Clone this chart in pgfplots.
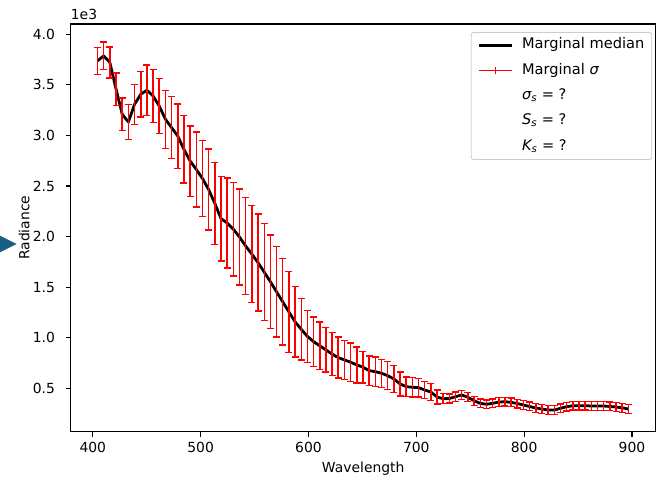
\documentclass[border=0pt]{standalone}
\usepackage{fontspec}
\setmainfont{DejaVu Sans}
\usepackage{pgfplots}
\usepackage{pgfplotstable}
\pgfplotsset{compat=1.18}
\definecolor{mplred}{RGB}{255,0,0}
\definecolor{legedge}{RGB}{204,204,204}
\definecolor{arrowblue}{RGB}{27,94,131}
\newcommand\fs{\fontsize{13.9pt}{16.7pt}\selectfont}
\newcommand\fl{\fontsize{14.6pt}{17pt}\selectfont}
\pgfplotstableread{
x y e
404.4 3736 132
410.1 3785 136
415.8 3720 153
421.6 3455 160
427.3 3208 160
433.0 3132 172
438.7 3307 198
444.5 3406 226
450.2 3446 248
455.9 3389 259
461.6 3290 275
467.4 3158 286
473.1 3076 308
478.8 2993 318
484.5 2861 333
490.3 2746 347
496.0 2663 371
501.7 2574 378
507.4 2465 399
513.2 2327 406
518.9 2178 419
524.6 2134 444
530.3 2074 463
536.1 1995 474
541.8 1906 479
547.5 1827 479
553.2 1743 479
559.0 1649 478
564.7 1554 462
570.4 1455 446
576.1 1356 426
581.8 1257 401
587.6 1158 347
593.3 1084 302
599.0 1015 257
604.7 963 243
610.5 921 235
616.2 881 219
621.9 839 214
627.6 805 203
633.4 782 193
639.1 759 190
644.8 733 178
650.5 710 157
656.3 676 145
662.0 666 146
667.7 650 139
673.4 627 137
679.2 594 132
684.9 545 119
690.6 518 96
696.3 512 96
702.0 508 91
707.8 485 83
713.5 465 82
719.2 416 69
724.9 399 50
730.7 401 45
736.4 419 45
742.1 436 45
747.8 413 45
753.6 379 45
759.3 353 43
765.0 344 43
770.7 353 43
776.5 366 43
782.2 369 43
787.9 363 43
793.6 351 43
799.4 337 43
805.1 322 43
810.8 307 43
816.5 297 43
822.3 287 43
828.0 287 43
833.7 304 43
839.4 320 43
845.1 329 43
850.9 330 43
856.6 330 43
862.3 327 43
868.0 327 43
873.8 327 43
879.5 322 43
885.2 317 43
890.9 309 43
896.7 297 43
}\data
\begin{document}
\fs
\begin{tikzpicture}
\begin{axis}[
  name=ax, at={(0,0)}, anchor=south west,
  scale only axis, width=585pt, height=407.7pt,
  xmin=379.5, xmax=922, ymin=73, ymax=4100,
  xtick={400,500,600,700,800,900},
  xticklabels={400,500,600,700,800,900},
  ytick={500,1000,1500,2000,2500,3000,3500,4000},
  yticklabels={0.5,1.0,1.5,2.0,2.5,3.0,3.5,4.0},
  xtick pos=bottom, ytick pos=left,
  tick align=outside, major tick length=4.86pt,
  every tick/.style={black, line width=1.1pt},
  axis line style={line width=1.1pt},
  xticklabel style={font=\fs, anchor=base, inner sep=0pt, yshift=-15.8pt},
  yticklabel style={font=\fs, anchor=east, inner sep=0pt, xshift=-10.7pt},
  every axis x label/.style={at={(rel axis cs:0.5,0)}, anchor=base, yshift=-41.3pt, font=\fs},
  every axis y label/.style={at={([xshift=-41.4pt]rel axis cs:0,0.5)}, rotate=90, anchor=base, font=\fs},
  xlabel={Wavelength}, ylabel={Radiance},
  legend style={at={(rel axis cs:1,1)}, anchor=north east, xshift=-3.5pt, yshift=-8pt,
    draw=legedge, line width=0.8pt, rounded corners=2.5pt, fill=white,
    inner xsep=6pt, inner ysep=4.5pt, row sep=8.3pt, column sep=7.5pt,
    nodes={inner sep=1.5pt, text height=10.5pt, text depth=3.5pt}, font=\fl},
  legend cell align=left,
  clip=false,
]
% vertical error segments drawn as | marks of half-length e (data units -> pt)
\addplot[scatter, only marks, mark=|, line width=1.5pt, forget plot,
  scatter/use mapped color={draw=mplred, fill=mplred},
  visualization depends on={0.101242*\thisrow{e} \as \perr},
  scatter/@pre marker code/.append style={/tikz/mark size=\perr}]
  table[x=x, y=y] {\data};
% caps
\addplot[draw=mplred, line width=1.3pt, only marks, mark=-, mark size=3.5pt,
  mark options={draw=mplred, line width=1.3pt}, forget plot]
  table[x=x, y expr=\thisrow{y}+\thisrow{e}] {\data};
\addplot[draw=mplred, line width=1.3pt, only marks, mark=-, mark size=3.5pt,
  mark options={draw=mplred, line width=1.3pt}, forget plot]
  table[x=x, y expr=\thisrow{y}-\thisrow{e}] {\data};
\addplot[draw=black, line width=2.78pt, line join=round, mark=none, forget plot]
  table[x=x, y=y] {\data};
\addlegendimage{legend image code/.code={\draw[draw=black, line width=2.78pt] (0pt,0pt) -- (33pt,0pt);}}
\addlegendentry{Marginal median}
\addlegendimage{legend image code/.code={\draw[draw=mplred, line width=1.3pt] (0pt,0pt) -- (33pt,0pt); \draw[draw=mplred, line width=1.3pt] (16.5pt,-3.8pt) -- (16.5pt,3.8pt);}}
\addlegendentry{Marginal {\itshape σ}}
\addlegendimage{empty legend}
\addlegendentry{{\itshape σ}\textsubscript{\itshape s} = ?}
\addlegendimage{empty legend}
\addlegendentry{{\itshape S}\textsubscript{\itshape s} = ?}
\addlegendimage{empty legend}
\addlegendentry{{\itshape K}\textsubscript{\itshape s} = ?}
\node[anchor=base west, inner sep=0pt, font=\fs] at ([yshift=4pt]rel axis cs:0,1) {1e3};
\end{axis}
\fill[arrowblue] (-76pt,198.7pt) -- (-54pt,187.7pt) -- (-76pt,176.7pt) -- cycle;
\pgfresetboundingbox
\path[use as bounding box] (-70.7pt,-49.3pt) rectangle (595.3pt,431.7pt);
\end{tikzpicture}
\end{document}
